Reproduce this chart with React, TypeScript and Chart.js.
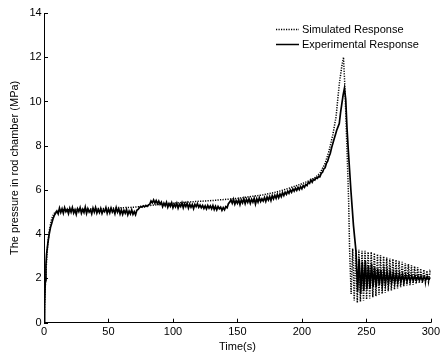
import React, { useEffect, useRef } from "react";
import { Chart, registerables } from "chart.js";

Chart.register(...registerables);

const seriesLabels = ["Simulated Response", "Experimental Response"];
const xTickValues = [0, 50, 100, 150, 200, 250, 300];
const yTickValues = [0, 2, 4, 6, 8, 10, 12, 14];
const xTitle = "Time(s)";
const yTitle = "The pressure in rod chamber (MPa)";

const simTime = [
  0, 1, 2, 3, 4, 5, 6, 7, 8, 10, 15, 30, 50, 70, 90, 110, 130, 150, 170, 180, 190, 200, 206, 210, 214, 218, 221, 224, 226.5, 229, 231, 232.3, 233.5, 234.5, 235.5, 236.3,
  237, 238.2, 239.4, 240.6, 241.8, 243, 244.2, 245.4, 246.6, 247.8, 249, 250.2, 251.4, 252.6, 253.8, 255, 256.2, 257.4, 258.6, 259.8,
  261, 262.2, 263.4, 264.6, 265.8, 267, 268.2, 269.4, 270.6, 271.8, 273, 274.2, 275.4, 276.6, 277.8, 279, 280.2, 281.4, 282.6, 283.8,
  285, 286.2, 287.4, 288.6, 289.8, 291, 292.2, 293.4, 294.6, 295.8, 297, 298.2, 299.4, 300,
];
const simPressure = [
  0, 1.6, 2.8, 3.6, 4.1, 4.45, 4.7, 4.85, 4.95, 5.05, 5.1, 5.12, 5.17, 5.22, 5.35, 5.45, 5.52, 5.62, 5.78, 5.9, 6.08, 6.28, 6.43, 6.55, 6.75, 7.2, 7.75, 8.5, 9.3, 10.8, 11.6, 12.0, 10.5, 8.6, 6.9, 5.4,
  3.3, 1.3, 3.35, 1.0, 3.3, 0.9, 3.3, 0.95, 3.25, 1.0, 3.25, 1.05, 3.2, 1.1, 3.2, 1.15, 3.15, 1.2, 3.1, 1.25,
  3.05, 1.3, 3.0, 1.35, 2.95, 1.42, 2.9, 1.45, 2.88, 1.5, 2.85, 1.55, 2.8, 1.6, 2.75, 1.65, 2.7, 1.68, 2.65, 1.7,
  2.6, 1.72, 2.55, 1.75, 2.5, 1.78, 2.45, 1.8, 2.4, 1.82, 2.35, 1.85, 2.3, 2.2,
];

const expTime = [
  0, 0.5, 1, 1.5, 2, 3, 4, 5, 6, 7, 8, 9,
  10, 11, 12, 13, 14, 15, 16, 17, 18, 19,
  20, 21, 22, 23, 24, 25, 26, 27, 28, 29,
  30, 31, 32, 33, 34, 35, 36, 37, 38, 39,
  40, 41, 42, 43, 44, 45, 46, 47, 48, 49,
  50, 51, 52, 53, 54, 55, 56, 57, 58, 59,
  60, 61, 62, 63, 64, 65, 66, 67, 68, 69,
  70, 71, 72, 73, 74, 75, 76, 77, 78, 79,
  80, 81, 82, 83, 84, 85, 86, 87, 88, 89,
  90, 91, 92, 93, 94, 95, 96, 97, 98, 99,
  100, 101, 102, 103, 104, 105, 106, 107, 108, 109,
  110, 111, 112, 113, 114, 115, 116, 117, 118, 119,
  120, 121, 122, 123, 124, 125, 126, 127, 128, 129,
  130, 131, 132, 133, 134, 135, 136, 137, 138, 139,
  140, 141, 142, 143, 144, 145, 146, 147, 148, 149,
  150, 151, 152, 153, 154, 155, 156, 157, 158, 159,
  160, 161, 162, 163, 164, 165, 166, 167, 168, 169,
  170, 171, 172, 173, 174, 175, 176, 177, 178, 179,
  180, 181, 182, 183, 184, 185, 186, 187, 188, 189,
  190, 191, 192, 193, 194, 195, 196, 197, 198, 199,
  200, 201, 202, 203, 204, 205, 206, 207, 208, 209,
  210, 211, 212, 213, 214, 215, 216, 217, 218, 219,
  220, 221, 222, 223, 224, 225, 226, 227, 228,
  229, 230, 231, 232, 233, 234, 235, 236, 237, 238, 239, 240, 241, 242,
  243.2, 244.4, 245.6, 246.8, 248, 249.2, 250.4, 251.6, 252.8, 254, 255.2, 256.4, 257.6, 258.8, 260,
  261.2, 262.4, 263.6, 264.8, 266, 267.2, 268.4, 269.6, 270.8, 272, 273.2, 274.4, 275.6, 276.8, 278, 279.2,
  280.4, 281.6, 282.8, 284, 285.2, 286.4, 287.6, 288.8, 290, 291.2, 292.4, 293.6, 294.8, 296, 297.2, 298.4, 299.6,
];
const expPressure = [
  0, 0.8, 1.9, 2.6, 3.1, 3.6, 4.0, 4.3, 4.5, 4.7, 4.85, 4.95,
  5.05, 4.92, 5.18, 4.98, 5.15, 4.95, 5.2, 5.02, 5.12, 4.93,
  5.17, 5.0, 5.2, 4.96, 5.1, 4.9, 5.15, 5.02, 5.2, 4.95,
  5.12, 4.98, 5.22, 4.94, 5.15, 5.0, 5.1, 4.92, 5.18, 5.0,
  5.2, 4.96, 5.12, 4.98, 5.16, 4.94, 5.1, 5.02, 5.2, 4.95,
  5.14, 4.97, 5.18, 5.0, 5.12, 4.93, 5.2, 5.0, 5.15, 4.92,
  5.1, 4.9, 5.08, 4.95, 5.12, 4.88, 5.05, 4.92, 5.1, 4.9,
  5.02, 4.88, 5.08, 5.12, 5.2, 5.25, 5.22, 5.28, 5.24, 5.3,
  5.26, 5.32, 5.35, 5.5, 5.42, 5.55, 5.4, 5.52, 5.38, 5.5,
  5.35, 5.45, 5.25, 5.4, 5.28, 5.44, 5.22, 5.38, 5.26, 5.42,
  5.2, 5.36, 5.24, 5.4, 5.18, 5.35, 5.25, 5.42, 5.2, 5.38,
  5.25, 5.4, 5.18, 5.36, 5.22, 5.34, 5.16, 5.35, 5.25, 5.38,
  5.22, 5.32, 5.2, 5.3, 5.16, 5.28, 5.14, 5.3, 5.18, 5.28,
  5.15, 5.3, 5.12, 5.26, 5.1, 5.25, 5.15, 5.22, 5.08, 5.2,
  5.1, 5.25, 5.2, 5.38, 5.45, 5.55, 5.4, 5.58, 5.36, 5.52,
  5.4, 5.56, 5.34, 5.55, 5.42, 5.6, 5.38, 5.58, 5.44, 5.6,
  5.4, 5.58, 5.45, 5.62, 5.36, 5.6, 5.45, 5.65, 5.48, 5.6,
  5.5, 5.66, 5.48, 5.68, 5.55, 5.7, 5.52, 5.74, 5.6, 5.76,
  5.62, 5.8, 5.65, 5.82, 5.7, 5.88, 5.75, 5.9, 5.8, 5.95,
  5.85, 6.0, 5.9, 6.05, 5.95, 6.08, 5.98, 6.12, 6.02, 6.15,
  6.05, 6.2, 6.12, 6.25, 6.2, 6.35, 6.3, 6.45, 6.35, 6.48,
  6.45, 6.55, 6.52, 6.62, 6.6, 6.75, 6.8, 6.95, 7.0, 7.2,
  7.3, 7.5, 7.65, 7.9, 8.1, 8.3, 8.5, 8.7, 8.85,
  9.0, 9.5, 9.9, 10.3, 10.6, 10.1, 8.8, 7.8, 6.9, 6.0, 5.2, 4.4, 3.8, 3.2,
  1.4, 2.9, 1.3, 2.75, 1.45, 2.8, 1.5, 2.6, 1.55, 2.65, 1.6, 2.5, 1.62, 2.45, 1.7,
  2.4, 1.68, 2.35, 1.75, 2.3, 1.78, 2.3, 1.8, 2.25, 1.8, 2.22, 1.82, 2.2, 1.85, 2.18, 1.85,
  2.15, 1.88, 2.15, 1.88, 2.12, 1.9, 2.12, 1.9, 2.1, 1.92, 2.1, 1.9, 2.08, 1.92, 2.08, 1.93, 2.05,
];

const FONT = "'Liberation Sans', Arial, Helvetica, sans-serif";
const SIM_DASH = [1.2, 1.3];

const decorPlugin = {
  id: "decor",
  afterDraw(chart: any) {
    const ctx = chart.ctx;
    const xs = chart.scales.x;
    const ys = chart.scales.y;
    const area = chart.chartArea;
    ctx.save();
    ctx.strokeStyle = "#000";
    ctx.lineWidth = 1;
    ctx.beginPath();
    xTickValues.forEach((v) => {
      const px = Math.round(xs.getPixelForValue(v)) + 0.5;
      ctx.moveTo(px, area.bottom);
      ctx.lineTo(px, area.bottom - 4);
    });
    yTickValues.forEach((v) => {
      const py = Math.round(ys.getPixelForValue(v)) + 0.5;
      ctx.moveTo(area.left, py);
      ctx.lineTo(area.left + 4, py);
    });
    ctx.stroke();

    // legend
    const lx0 = 276;
    const lx1 = 299;
    const rows = [29.5, 44.5];
    ctx.font = `11px ${FONT}`;
    ctx.fillStyle = "#000";
    ctx.textBaseline = "middle";
    ctx.textAlign = "left";
    rows.forEach((ry, i) => {
      ctx.beginPath();
      ctx.lineWidth = 1.5;
      ctx.setLineDash(i === 0 ? SIM_DASH : []);
      ctx.moveTo(lx0, ry);
      ctx.lineTo(lx1, ry);
      ctx.stroke();
      ctx.setLineDash([]);
      ctx.fillText(seriesLabels[i], 302, ry);
    });
    ctx.restore();
  },
};

export default function App() {
  const ref = useRef<HTMLCanvasElement | null>(null);
  useEffect(() => {
    if (!ref.current) return;
    const simData = simTime.map((t, i) => ({ x: t, y: simPressure[i] }));
    const expData = expTime.map((t, i) => ({ x: t, y: expPressure[i] }));
    const chart = new Chart(ref.current, {
      type: "line",
      data: {
        datasets: [
          {
            label: seriesLabels[0],
            data: simData,
            borderColor: "#000",
            borderWidth: 1.5,
            borderDash: SIM_DASH,
            pointRadius: 0,
            tension: 0,
            fill: false,
            order: 2,
          },
          {
            label: seriesLabels[1],
            data: expData,
            borderColor: "#000",
            borderWidth: 1.7,
            pointRadius: 0,
            tension: 0,
            fill: false,
            order: 1,
          },
        ],
      },
      options: {
        responsive: false,
        animation: false,
        events: [],
        layout: { padding: { top: 13, right: 11.3, left: 0, bottom: 0 } },
        plugins: { legend: { display: false }, tooltip: { enabled: false } },
        scales: {
          x: {
            type: "linear",
            min: 0,
            max: 300,
            afterFit: (s: any) => {
              s.height = 32.3;
            },
            afterBuildTicks: (s: any) => {
              s.ticks = xTickValues.map((v) => ({ value: v }));
            },
            grid: { display: false, drawTicks: false },
            border: { display: true, color: "#000", width: 1 },
            ticks: {
              color: "#000",
              padding: 3,
              maxRotation: 0,
              autoSkip: false,
              font: { family: FONT, size: 11 },
            },
            title: {
              display: true,
              text: xTitle,
              color: "#000",
              font: { family: FONT, size: 11 },
              padding: { top: 0, bottom: 1.7 },
            },
          },
          y: {
            type: "linear",
            min: 0,
            max: 14,
            afterFit: (s: any) => {
              s.width = 44;
            },
            afterBuildTicks: (s: any) => {
              s.ticks = yTickValues.map((v) => ({ value: v }));
            },
            grid: { display: false, drawTicks: false },
            border: { display: true, color: "#000", width: 1 },
            ticks: {
              color: "#000",
              padding: 2.3,
              autoSkip: false,
              font: { family: FONT, size: 11 },
            },
            title: {
              display: true,
              text: yTitle,
              color: "#000",
              font: { family: FONT, size: 11 },
              padding: { top: 8.4, bottom: 0 },
            },
          },
        },
      },
      plugins: [decorPlugin],
    });
    return () => chart.destroy();
  }, []);
  return (
    <div style={{ position: "fixed", left: 0, top: 0, width: 443, height: 355, background: "#fff" }}>
      <canvas ref={ref} width={443} height={355} style={{ display: "block", width: 443, height: 355 }} />
    </div>
  );
}
